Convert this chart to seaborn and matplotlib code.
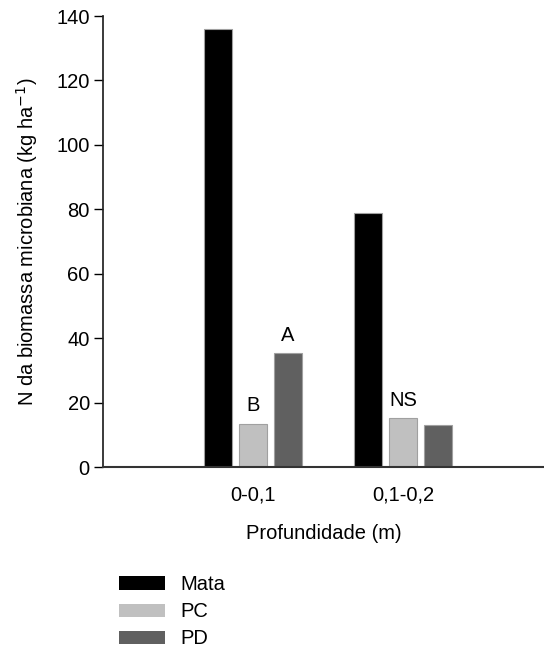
import matplotlib
matplotlib.use("Agg")
import matplotlib.pyplot as plt
import seaborn as sns
import pandas as pd
from matplotlib.patches import Patch

depths = ["0-0,1", "0,1-0,2"]
systems = ["Mata", "PC", "PD"]
mata = [136, 79]
pc = [13.5, 15.2]
pd_vals = [35.3, 13.0]
letters_pc = ["B", "NS"]
letters_pd = ["A", ""]
colors = ["#000000", "#c0c0c0", "#606060"]

rows = []
for i, d in enumerate(depths):
    rows.append((d, "Mata", mata[i]))
    rows.append((d, "PC", pc[i]))
    rows.append((d, "PD", pd_vals[i]))
df = pd.DataFrame(rows, columns=["depth", "system", "value"])

sns.set_theme(style="ticks")
plt.rcParams["font.family"] = ["Liberation Sans", "DejaVu Sans"]
plt.rcParams["text.color"] = "black"
plt.rcParams["axes.labelcolor"] = "black"
plt.rcParams["xtick.color"] = "black"
plt.rcParams["ytick.color"] = "black"

FS = 14.5

fig = plt.figure(figsize=(5.44, 6.55), dpi=100)
ax = fig.add_axes([0.1893, 0.287, 0.8107, 0.6885])

sns.barplot(data=df, x="depth", y="value", hue="system", order=depths,
            hue_order=systems, palette=colors, width=0.7, gap=0.2,
            edgecolor="#a0a0a0", linewidth=0.8, legend=False, ax=ax, errorbar=None)

ax.set_xlim(-1.0, 1.94)
ax.set_ylim(0, 140)
ax.set_yticks(range(0, 141, 20))
ax.tick_params(axis="y", direction="out", length=6.5, width=1, pad=3, labelsize=FS)
ax.tick_params(axis="x", length=0, labelsize=FS, pad=13)
for s in ["top", "right"]:
    ax.spines[s].set_visible(False)
ax.spines["left"].set_color("#222222")
ax.spines["bottom"].set_color("#333333")
ax.spines["bottom"].set_linewidth(1.5)

ax.set_xlabel("Profundidade (m)", fontsize=FS, labelpad=14)
ax.set_ylabel("N da biomassa microbiana (kg ha$^{-1}$)", fontsize=FS, labelpad=12)

# annotations from bar containers
conts = ax.containers
for i in range(len(depths)):
    bpc = conts[1][i]
    bpd = conts[2][i]
    if letters_pc[i]:
        ax.text(bpc.get_x() + bpc.get_width() / 2, bpc.get_height() + 2.5, letters_pc[i],
                ha="center", va="bottom", fontsize=FS)
    if letters_pd[i]:
        ax.text(bpd.get_x() + bpd.get_width() / 2, bpd.get_height() + 2.5, letters_pd[i],
                ha="center", va="bottom", fontsize=FS)

handles = [Patch(facecolor=c, edgecolor="none", label=s) for s, c in zip(systems, colors)]
fig.legend(handles=handles, loc="upper left", bbox_to_anchor=(0.219, 0.122),
           frameon=False, fontsize=FS, handlelength=2.3, handleheight=0.62,
           handletextpad=0.75, labelspacing=0.4, borderaxespad=0, borderpad=0)

fig.savefig("out.png", dpi=100)
